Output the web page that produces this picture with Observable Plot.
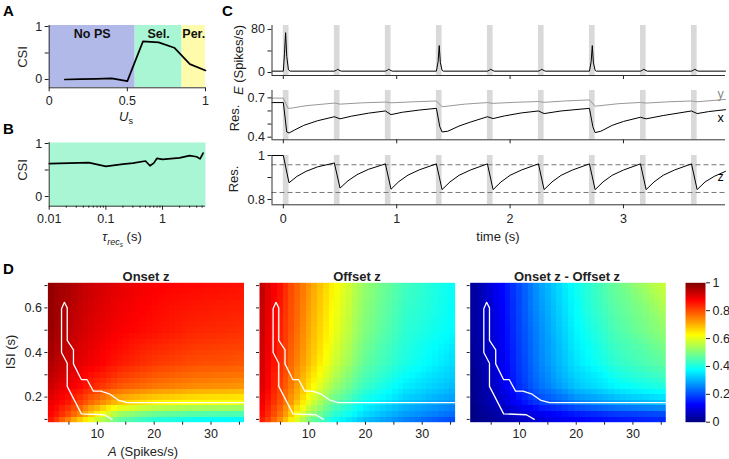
<!DOCTYPE html>
<html><head><meta charset="utf-8">
<script src="https://cdn.jsdelivr.net/npm/d3@7"></script>
<script src="https://cdn.jsdelivr.net/npm/@observablehq/plot@0.6"></script>
<style>
body{margin:0;background:#fff;font-family:"Liberation Sans",Arial,sans-serif;}
#fig{position:relative;width:729px;height:459px;overflow:hidden;background:#fff;}
#fig svg{position:absolute;left:0;top:0;}
.lbl{position:absolute;white-space:nowrap;color:#222;font-size:13px;line-height:1;}
.pl{position:absolute;font-weight:bold;font-size:15px;color:#000;line-height:1;}
sub{font-size:70%;}
</style></head><body><div id="fig"></div><script>
// ---------- Panel A ----------
const regionNames = ["No PS", "Sel.", "Per."];
const regionStart = [0, 0.55, 0.85];
const regionEnd = [0.55, 0.85, 1];
const regionColors = ["#b1b9e9", "#a9f6d4", "#fefcac"];
const usValues = [0.1, 0.2, 0.3, 0.4, 0.5, 0.6, 0.7, 0.8, 0.9, 1.0];
const csiA = [0, 0.005, 0.01, 0.02, -0.03, 0.72, 0.70, 0.60, 0.29, 0.17];
const aXTicks = [0, 0.5, 1];
const csiTicks = [0, 1];
const csiMinor = [0.5];

// ---------- Panel B ----------
const tauRec = [0.01, 0.05, 0.1, 0.2, 0.3, 0.5, 0.6, 0.7, 0.8, 1, 2, 3, 4, 4.6, 5.2];
const csiB = [0.62, 0.64, 0.57, 0.61, 0.63, 0.67, 0.58, 0.63, 0.72, 0.70, 0.73, 0.77, 0.75, 0.71, 0.82];
const tauMajor = [0.01, 0.1, 1];
const tauMinor = [0.02,0.03,0.04,0.05,0.06,0.07,0.08,0.09,0.2,0.3,0.4,0.5,0.6,0.7,0.8,0.9,2,3,4,5];

// ---------- Panel C ----------
const stimOn = [0, 0.45, 0.9, 1.35, 1.8, 2.25, 2.7, 3.15, 3.6];
const stimOff = [0.05, 0.5, 0.95, 1.4, 1.85, 2.3, 2.75, 3.2, 3.65];
const timeTicks = [0, 1, 2, 3];
const tE = [-0.1, 0.0, 0.01, 0.02, 0.03, 0.045, 0.06,
  0.45, 0.47, 0.48, 0.49, 0.51,
  0.9, 0.92, 0.93, 0.94, 0.96,
  1.35, 1.365, 1.375, 1.385, 1.4, 1.41,
  1.8, 1.82, 1.83, 1.84, 1.86,
  2.25, 2.27, 2.28, 2.29, 2.31,
  2.7, 2.715, 2.725, 2.735, 2.75, 2.76,
  3.15, 3.17, 3.18, 3.19, 3.21,
  3.6, 3.62, 3.63, 3.64, 3.66, 3.9];
const vE = [2.5, 2.5, 35, 74, 30, 5, 2.5,
  2.5, 4.5, 6, 4.5, 2.5,
  2.5, 4.5, 6, 4.5, 2.5,
  2.5, 20, 50, 18, 4, 2.5,
  2.5, 4.5, 6, 4.5, 2.5,
  2.5, 4.5, 6, 4.5, 2.5,
  2.5, 20, 50, 18, 4, 2.5,
  2.5, 4.5, 6, 4.5, 2.5,
  2.5, 4.5, 6, 4.5, 2.5, 2.5];
const eTicks = [0, 80];
const eMinor = [40];
const tX = [-0.1, 0.0, 0.03, 0.05, 0.1, 0.18, 0.3, 0.45, 0.5, 0.6, 0.75, 0.9, 0.95, 1.05, 1.2, 1.35,
  1.38, 1.4, 1.45, 1.55, 1.65, 1.8, 1.85, 1.95, 2.1, 2.25, 2.3, 2.45, 2.7,
  2.73, 2.75, 2.8, 2.9, 3.0, 3.15, 3.2, 3.35, 3.6, 3.65, 3.75, 3.9];
const vX = [0.664, 0.664, 0.44, 0.432, 0.455, 0.49, 0.525, 0.556, 0.54, 0.56, 0.583, 0.60, 0.572, 0.59, 0.607, 0.62,
  0.48, 0.44, 0.445, 0.485, 0.515, 0.556, 0.542, 0.562, 0.585, 0.60, 0.58, 0.60, 0.62,
  0.48, 0.435, 0.445, 0.49, 0.52, 0.552, 0.54, 0.565, 0.60, 0.58, 0.595, 0.61];
const tY = [-0.1, 0.0, 0.04, 0.06, 0.2, 0.45, 0.5, 0.7, 0.9, 0.95, 1.15, 1.35, 1.4, 1.6, 1.8, 1.85, 2.05, 2.25,
  2.3, 2.5, 2.7, 2.75, 2.95, 3.15, 3.2, 3.4, 3.6, 3.65, 3.9];
const vY = [0.698, 0.698, 0.622, 0.62, 0.64, 0.66, 0.652, 0.662, 0.668, 0.662, 0.670, 0.676, 0.632, 0.652, 0.664, 0.658, 0.666, 0.672,
  0.666, 0.677, 0.684, 0.636, 0.655, 0.665, 0.66, 0.67, 0.676, 0.67, 0.688];
const resMidTicks = [0.4, 0.7];
const resMidMinor = [0.5, 0.6];
const tZ = [-0.1, 0, 0.05, 0.12, 0.2, 0.3, 0.45,
  0.5, 0.57, 0.65, 0.75, 0.9,
  0.95, 1.02, 1.1, 1.2, 1.35,
  1.4, 1.47, 1.55, 1.65, 1.8,
  1.85, 1.92, 2.0, 2.1, 2.25,
  2.3, 2.37, 2.45, 2.55, 2.7,
  2.75, 2.82, 2.9, 3.0, 3.15,
  3.2, 3.27, 3.35, 3.45, 3.6,
  3.65, 3.72, 3.8, 3.9];
const vZ = [1, 1, 0.876, 0.905, 0.928, 0.948, 0.966,
  0.852, 0.885, 0.913, 0.937, 0.962,
  0.847, 0.882, 0.911, 0.935, 0.962,
  0.845, 0.88, 0.91, 0.934, 0.962,
  0.845, 0.88, 0.91, 0.934, 0.962,
  0.845, 0.88, 0.91, 0.934, 0.962,
  0.845, 0.88, 0.91, 0.934, 0.962,
  0.845, 0.88, 0.91, 0.934, 0.962,
  0.845, 0.88, 0.905, 0.928];
const zBounds = [0.958, 0.832];
const resBotTicks = [0.8, 1];
const resBotMinor = [0.9];

// ---------- Panel D ----------
const gridA = [1.3, 3, 5, 7, 10, 14, 20, 27, 35.8];
const gridISI = [0.0875, 0.125, 0.175, 0.25, 0.35, 0.5, 0.7125];
const onsetZ = [
  [0.85, 0.80, 0.72, 0.64, 0.54, 0.44, 0.38, 0.35, 0.33],
  [0.88, 0.85, 0.80, 0.74, 0.64, 0.53, 0.48, 0.46, 0.45],
  [0.90, 0.88, 0.85, 0.81, 0.75, 0.68, 0.64, 0.62, 0.61],
  [0.93, 0.91, 0.89, 0.87, 0.83, 0.79, 0.76, 0.74, 0.73],
  [0.96, 0.94, 0.92, 0.90, 0.88, 0.85, 0.82, 0.80, 0.79],
  [0.98, 0.96, 0.94, 0.92, 0.90, 0.88, 0.86, 0.84, 0.83],
  [0.99, 0.97, 0.96, 0.94, 0.92, 0.90, 0.88, 0.87, 0.86]];
const offsetZ = [
  [0.86, 0.80, 0.72, 0.62, 0.48, 0.38, 0.30, 0.24, 0.18],
  [0.88, 0.83, 0.76, 0.67, 0.54, 0.43, 0.34, 0.28, 0.23],
  [0.90, 0.85, 0.79, 0.72, 0.60, 0.48, 0.38, 0.32, 0.27],
  [0.92, 0.87, 0.81, 0.75, 0.65, 0.54, 0.43, 0.36, 0.31],
  [0.93, 0.88, 0.83, 0.77, 0.69, 0.59, 0.47, 0.40, 0.34],
  [0.94, 0.89, 0.84, 0.79, 0.71, 0.62, 0.50, 0.42, 0.37],
  [0.95, 0.90, 0.86, 0.80, 0.73, 0.64, 0.52, 0.44, 0.38]];
const diffZ = [
  [0.00, 0.01, 0.02, 0.04, 0.06, 0.08, 0.11, 0.13, 0.15],
  [0.00, 0.02, 0.03, 0.05, 0.08, 0.11, 0.15, 0.18, 0.20],
  [0.00, 0.03, 0.05, 0.08, 0.13, 0.19, 0.25, 0.29, 0.32],
  [0.01, 0.03, 0.06, 0.10, 0.17, 0.24, 0.32, 0.37, 0.41],
  [0.01, 0.04, 0.07, 0.11, 0.18, 0.26, 0.35, 0.42, 0.47],
  [0.02, 0.05, 0.08, 0.12, 0.19, 0.27, 0.37, 0.45, 0.52],
  [0.02, 0.05, 0.09, 0.13, 0.20, 0.29, 0.39, 0.48, 0.58]];
const contourA = [12.6, 11.2, 7.2, 4.7, 4.7, 3.7, 3.7, 4.2, 4.7, 4.7, 5.8, 5.8, 7.2, 8.2, 9.3, 10.6, 12.1, 13.8, 15.3, 35.8];
const contourISI = [0.1, 0.121, 0.125, 0.248, 0.352, 0.4, 0.596, 0.625, 0.6, 0.454, 0.412, 0.349, 0.278, 0.278, 0.227, 0.227, 0.215, 0.185, 0.175, 0.175];
const aTicks = [5, 10, 15, 20, 25, 30, 35];
const aTickLabels = [10, 20, 30];
const isiTicks = [0.1, 0.2, 0.3, 0.4, 0.5, 0.6, 0.7];
const isiTickLabels = [0.2, 0.4, 0.6];
const cbTicks = [0, 0.2, 0.4, 0.6, 0.8, 1];
const jetStops = [0, 0.125, 0.25, 0.375, 0.5, 0.625, 0.75, 0.875, 1];
const jetColors = ["#00007f","#0000ff","#007fff","#00ffff","#7fff7f","#ffff00","#ff7f00","#ff0000","#7f0000"];

// ---------- helpers ----------
const W = 729, H = 459;
const FONT = '"Liberation Sans", Arial, sans-serif';
const fig = document.getElementById("fig");
const AX = "#333";
function place(frame, opts) {
  const p = Plot.plot({
    width: W, height: H,
    marginLeft: frame[0], marginRight: W - frame[1],
    marginTop: frame[2], marginBottom: H - frame[3],
    style: {background: "transparent", fontFamily: FONT, fontSize: "12px", color: "#222", overflow: "visible"},
    ...opts
  });
  p.style.position = "absolute"; p.style.left = "0px"; p.style.top = "0px";
  p.style.maxWidth = "none";
  fig.appendChild(p);
  return p;
}
function label(html, cx, cy, opts = {}) {
  const d = document.createElement("div");
  d.className = opts.cls || "lbl";
  d.innerHTML = html;
  d.style.left = cx + "px"; d.style.top = cy + "px";
  const rot = opts.rotate ? ` rotate(${opts.rotate}deg)` : "";
  d.style.transform = opts.corner ? "" : `translate(-50%,-50%)${rot}`;
  if (opts.weight) d.style.fontWeight = opts.weight;
  if (opts.size) d.style.fontSize = opts.size + "px";
  fig.appendChild(d);
}
const fmt = d => String(d);
const blank = () => "";
const zip = (xs, ys) => xs.map((x, i) => ({x, y: ys[i]}));

// ---------- Panel A ----------
const aY = [-0.157, 1.019];
const regions = regionNames.map((n, i) => ({name: n, x1: regionStart[i], x2: regionEnd[i], color: regionColors[i]}));
place([48.7, 205, 25, 87.3], {
  x: {domain: [0, 1]}, y: {domain: aY},
  marks: [
    ...regions.map(r => Plot.rect([r], {x1: "x1", x2: "x2", fill: r.color})),
    Plot.text(regions, {x: d => (d.x1 + d.x2) / 2, y: 0.85, text: "name", fontWeight: "bold", fontSize: 12.5, fill: "#111"}),
    Plot.line(zip(usValues, csiA), {x: "x", y: "y", stroke: "#000", strokeWidth: 1.7}),
    Plot.ruleX([0], {stroke: AX}),
    Plot.ruleY([aY[0]], {stroke: AX}),
    Plot.axisX(aXTicks, {tickSize: 4, tickPadding: 4, tickFormat: fmt, label: null, fontSize: 12.5}),
    Plot.axisY(csiTicks, {tickSize: 4, tickPadding: 3, tickFormat: fmt, label: null, fontSize: 12.5}),
    Plot.axisY(csiMinor, {tickSize: 4, tickFormat: blank, label: null})
  ]
});

// ---------- Panel B ----------
const bY = [-0.183, 1.019];
place([48.7, 205, 142, 205.7], {
  x: {type: "log", domain: [0.01, 5.73]}, y: {domain: bY},
  marks: [
    Plot.frame({fill: regionColors[1], stroke: null}),
    Plot.line(zip(tauRec, csiB), {x: "x", y: "y", stroke: "#000", strokeWidth: 1.7}),
    Plot.ruleX([0.01], {stroke: AX}),
    Plot.ruleY([bY[0]], {stroke: AX}),
    Plot.axisX(tauMajor, {tickSize: 4, tickPadding: 4, tickFormat: fmt, label: null, fontSize: 12.5}),
    Plot.axisX(tauMinor, {tickSize: 2, tickFormat: blank, label: null}),
    Plot.axisY(csiTicks, {tickSize: 4, tickPadding: 3, tickFormat: fmt, label: null, fontSize: 12.5}),
    Plot.axisY(csiMinor, {tickSize: 4, tickFormat: blank, label: null})
  ]
});

// ---------- Panel C ----------
const cX = [-0.1, 3.9];
const stims = stimOn.map((s, i) => ({on: s, off: stimOff[i]}));
function cPanel(frame, yDom, marks, showX) {
  place(frame, {
    x: {domain: cX}, y: {domain: yDom},
    marks: [
      Plot.rect(stims, {x1: "on", x2: "off", fill: "#d9d9d9"}),
      ...marks,
      Plot.ruleX([cX[0]], {stroke: AX}),
      Plot.ruleY([yDom[0]], {stroke: AX}),
      Plot.axisX(timeTicks, {tickSize: 4, tickPadding: 5, tickFormat: showX ? fmt : blank, label: null, fontSize: 12.5})
    ]
  });
}
const eY = [-5.6, 87.4];
cPanel([271.5, 725, 25, 75], eY, [
  Plot.line(zip(tE, vE), {x: "x", y: "y", stroke: "#000", strokeWidth: 1}),
  Plot.axisY(eTicks, {tickSize: 4, tickPadding: 3, tickFormat: fmt, label: null, fontSize: 12.5}),
  Plot.axisY(eMinor, {tickSize: 4, tickFormat: blank, label: null})
], false);
const mY = [0.380, 0.756];
const yData = zip(tY, vY), xData = zip(tX, vX);
cPanel([271.5, 725, 90, 139.3], mY, [
  Plot.line(yData, {x: "x", y: "y", stroke: "#999", strokeWidth: 1}),
  Plot.line(xData, {x: "x", y: "y", stroke: "#000", strokeWidth: 1}),
  Plot.text([yData[yData.length - 1]], {x: "x", y: "y", text: () => "y", dx: -5, dy: -5, fill: "#888", fontSize: 12.5}),
  Plot.text([xData[xData.length - 1]], {x: "x", y: "y", text: () => "x", dx: -5, dy: 8, fill: "#000", fontSize: 12.5}),
  Plot.axisY(resMidTicks, {tickSize: 4, tickPadding: 3, tickFormat: fmt, label: null, fontSize: 12.5}),
  Plot.axisY(resMidMinor, {tickSize: 4, tickFormat: blank, label: null})
], false);
const zY = [0.776, 1.0];
const zData = zip(tZ, vZ);
cPanel([271.5, 725, 155, 204.3], zY, [
  Plot.ruleY(zBounds, {stroke: "#777", strokeDasharray: "5,3", strokeWidth: 1}),
  Plot.line(zData, {x: "x", y: "y", stroke: "#000", strokeWidth: 1}),
  Plot.text([zData[zData.length - 1]], {x: "x", y: "y", text: () => "z", dx: -5, dy: 6, fill: "#000", fontSize: 12.5}),
  Plot.axisY(resBotTicks, {tickSize: 4, tickPadding: 3, tickFormat: fmt, label: null, fontSize: 12.5}),
  Plot.axisY(resBotMinor, {tickSize: 4, tickFormat: blank, label: null})
], true);

// ---------- Panel D ----------
const jet = d3.scaleLinear().domain(jetStops).range(jetColors).interpolate(d3.interpolateRgb).clamp(true);
const colorOpt = {type: "linear", domain: [0, 1], interpolate: jet, clamp: true};
const hX = [1.3, 35.8], hY = [0.0875, 0.7125];
const contour = contourA.map((a, i) => ({a, isi: contourISI[i]}));
function heat(frame, grid, showY) {
  const samples = [];
  gridISI.forEach((s, i) => gridA.forEach((a, j) => samples.push({a, isi: s, v: grid[i][j]})));
  place(frame, {
    x: {domain: hX}, y: {domain: hY}, color: colorOpt,
    marks: [
      Plot.raster(samples, {x: "a", y: "isi", fill: "v", x1: hX[0], x2: hX[1], y1: hY[0], y2: hY[1],
        width: 34, height: 25, interpolate: "barycentric", imageRendering: "pixelated"}),
      Plot.line(contour, {x: "a", y: "isi", stroke: "#fff", strokeWidth: 1.3}),
      Plot.axisX(aTicks, {tickSize: 3, tickPadding: 4, tickFormat: d => aTickLabels.includes(d) ? String(d) : "", label: null, fontSize: 12.5}),
      Plot.axisY(isiTicks, {tickSize: 3, tickPadding: 3, tickFormat: d => (showY && isiTickLabels.includes(d)) ? String(d) : "", label: null, fontSize: 12.5})
    ]
  });
}
heat([47.4, 243.5, 282.3, 421.7], onsetZ, true);
heat([259, 454.6, 282.3, 421.7], offsetZ, false);
heat([469.7, 665.3, 282.3, 421.7], diffZ, false);
// colorbar
place([685, 705, 282.3, 421.7], {
  x: {domain: [0, 1], axis: null}, y: {domain: [0, 1]}, color: colorOpt,
  marks: [
    Plot.raster({x1: 0, x2: 1, y1: 0, y2: 1, width: 1, height: 140, fill: (x, y) => y}),
    Plot.axisY(cbTicks, {anchor: "right", tickSize: 4, tickPadding: 3, tickFormat: fmt, label: null, fontSize: 12.5})
  ]
});

// ---------- text labels ----------
label("A", 3, 3, {cls: "pl", corner: true});
label("B", 3, 121, {cls: "pl", corner: true});
label("C", 222, 3, {cls: "pl", corner: true});
label("D", 3, 261, {cls: "pl", corner: true});
label("CSI", 22, 57, {rotate: -90});
label("CSI", 22, 170, {rotate: -90});
label("<i>U</i><sub>s</sub>", 126, 118);
label("<i>τ</i><sub><i>rec<sub>s</sub></i></sub> (s)", 122, 239);
label("<i>E</i> (Spikes/s)", 238, 60, {rotate: -90});
label("Res.", 234, 118, {rotate: -90});
label("Res.", 233, 179, {rotate: -90});
label("time (s)", 498, 236);
label("ISI (s)", 10, 352, {rotate: -90});
label("<i>A</i> (Spikes/s)", 143, 451);
label("Onset z", 146, 276, {weight: "bold"});
label("Offset z", 357, 276, {weight: "bold"});
label("Onset z - Offset z", 567, 276, {weight: "bold"});
</script></body></html>
